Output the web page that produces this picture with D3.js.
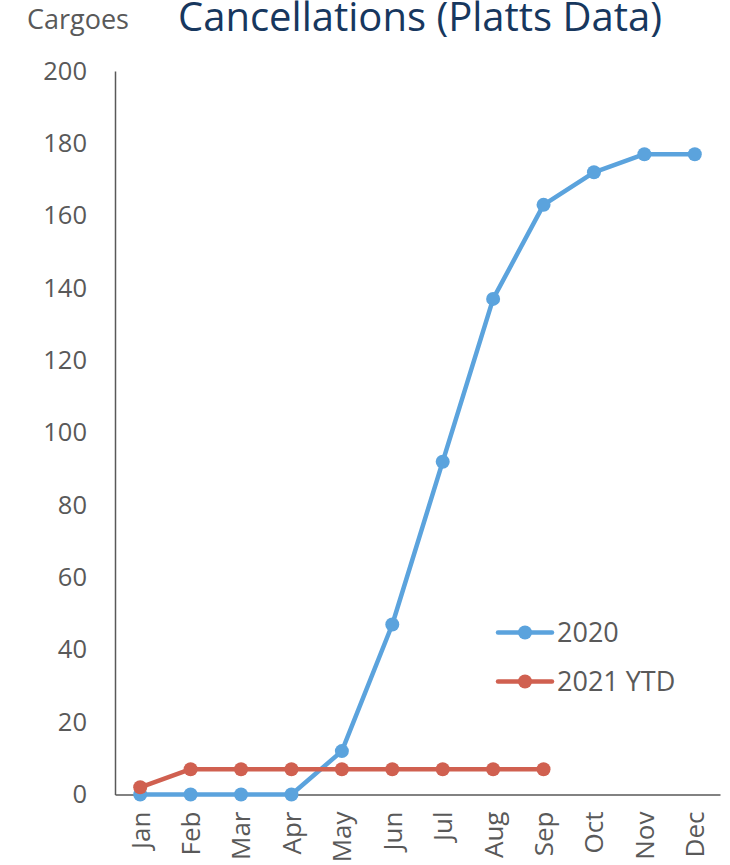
<!DOCTYPE html>
<html>
<head>
<meta charset="utf-8">
<script src="https://cdn.jsdelivr.net/npm/d3@7"></script>
<style>
  html, body { margin: 0; padding: 0; background: #fff; }
  svg { display: block; }
  text { font-family: "Open Sans", "Noto Sans", sans-serif; }
</style>
</head>
<body>
<svg id="chart" width="730" height="865"></svg>
<script>
const months = ["Jan","Feb","Mar","Apr","May","Jun","Jul","Aug","Sep","Oct","Nov","Dec"];
const values2020 = [0, 0, 0, 0, 12, 47, 92, 137, 163, 172, 177, 177];
const values2021 = [2, 7, 7, 7, 7, 7, 7, 7, 7];
const yTicks = [0, 20, 40, 60, 80, 100, 120, 140, 160, 180, 200];
const seriesNames = ["2020", "2021 YTD"];
const seriesColors = ["#5BA3DD", "#D06050"];

const svg = d3.select("#chart");
const mLeft = 115, mRight = 720, mTop = 71, mBottom = 794.5;
const gray = "#595959";

const x = d3.scaleBand().domain(months).range([mLeft, mRight]);
const y = d3.scaleLinear().domain([0, 200]).range([mBottom, mTop]);

// Y axis
const yAxis = svg.append("g")
  .attr("transform", `translate(${mLeft},0)`)
  .call(d3.axisLeft(y).tickValues(yTicks).tickSize(0).tickPadding(28).tickSizeOuter(0));
yAxis.select(".domain").attr("stroke", gray).attr("stroke-width", 1.5);
yAxis.selectAll("text").attr("fill", gray).style("font-size", "25.5px");

// X axis
const xAxis = svg.append("g")
  .attr("transform", `translate(0,${mBottom})`)
  .call(d3.axisBottom(x).tickSize(0).tickSizeOuter(0));
xAxis.select(".domain").attr("stroke", gray).attr("stroke-width", 1.5);
xAxis.selectAll("text")
  .attr("fill", gray)
  .style("font-size", "26px")
  .attr("text-anchor", "end")
  .attr("transform", "rotate(-90)")
  .attr("x", -17)
  .attr("y", 0)
  .attr("dy", "0.36em");

// Lines
const line = d3.line()
  .x((d, i) => x(months[i]) + x.bandwidth() / 2)
  .y(d => y(d));

[values2020, values2021].forEach((vals, si) => {
  svg.append("path")
    .datum(vals)
    .attr("fill", "none")
    .attr("stroke", seriesColors[si])
    .attr("stroke-width", 4.5)
    .attr("stroke-linejoin", "round")
    .attr("d", line);
});
[values2020, values2021].forEach((vals, si) => {
  svg.append("g").selectAll("circle")
    .data(vals)
    .join("circle")
    .attr("cx", (d, i) => x(months[i]) + x.bandwidth() / 2)
    .attr("cy", d => y(d))
    .attr("r", 7)
    .attr("fill", seriesColors[si]);
});

// Legend
const legend = svg.append("g");
seriesNames.forEach((name, i) => {
  const ly = 632.5 + i * 49;
  legend.append("line")
    .attr("x1", 498).attr("x2", 552)
    .attr("y1", ly).attr("y2", ly)
    .attr("stroke", seriesColors[i]).attr("stroke-width", 4.5)
    .attr("stroke-linecap", "round");
  legend.append("circle")
    .attr("cx", 525).attr("cy", ly).attr("r", 7)
    .attr("fill", seriesColors[i]);
  legend.append("text")
    .attr("x", 557).attr("y", ly)
    .attr("dy", "0.36em")
    .attr("fill", gray)
    .style("font-size", "27px")
    .text(name);
});

// Titles
svg.append("text")
  .attr("x", 27).attr("y", 28.5)
  .attr("fill", gray)
  .style("font-size", "27px")
  .text("Cargoes");
svg.append("text")
  .attr("x", 178).attr("y", 31)
  .attr("fill", "#17375E")
  .style("font-size", "40px")
  .text("Cancellations (Platts Data)");
</script>
</body>
</html>
